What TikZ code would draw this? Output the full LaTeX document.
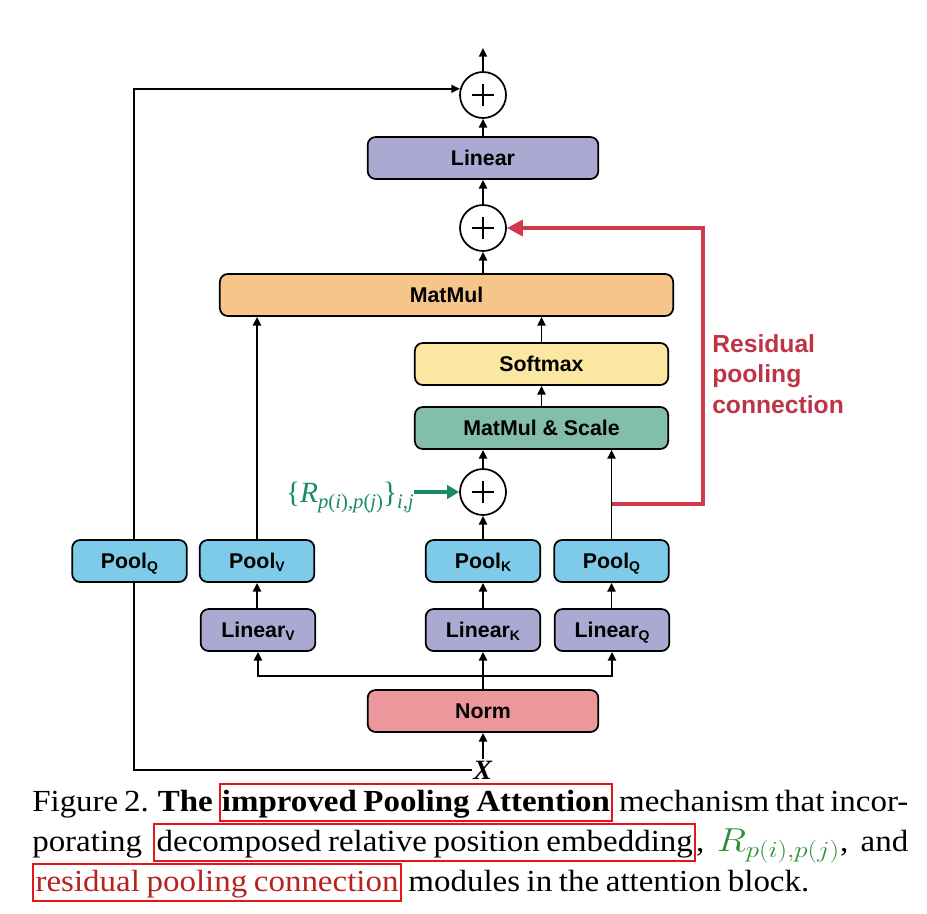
\documentclass[tikz,border=0pt]{standalone}
\usepackage{fontspec}
\usepackage{graphicx}
\setmainfont{Liberation Serif}
\newfontfamily\capfont[FakeStretch=1.075,WordSpace=0.8]{Liberation Serif}
\newfontfamily\boxfont{Liberation Sans}
\usetikzlibrary{arrows.meta,calc}
\definecolor{cLin}{HTML}{A9A9D1}
\definecolor{cMM}{HTML}{F6C58A}
\definecolor{cSm}{HTML}{FCE7A2}
\definecolor{cMs}{HTML}{82BEAA}
\definecolor{cPool}{HTML}{7ECBE9}
\definecolor{cNorm}{HTML}{EC979C}
\definecolor{cRes}{HTML}{CF3A4B}
\definecolor{cResT}{HTML}{BE3445}
\definecolor{cGreen}{HTML}{1A8A60}
\definecolor{cBox}{HTML}{E8141C}
\definecolor{cCapRed}{HTML}{B8221E}
\definecolor{cCapGreen}{HTML}{2F8F35}
\newcommand\lsub[1]{\smash{\raisebox{-2pt}{\fontsize{10.5}{10.5}\selectfont #1}}}
\newcommand\gsub[1]{\raisebox{-5pt}{\fontsize{15.5}{16}\selectfont #1}}
\newcommand\rbox[1]{{\color{cBox}\setlength\fboxrule{1.5pt}\setlength\fboxsep{1pt}\fbox{\color{black}\rule[-5.5pt]{0pt}{24pt}#1}}}
\tikzset{
  blk/.style={draw=black, line width=1.3pt, rounded corners=6pt, minimum height=31.5pt, inner sep=0pt,
    font=\boxfont\bfseries\fontsize{16}{18}\selectfont},
  wide/.style={minimum width=173pt},
  mid/.style={minimum width=190pt},
  small/.style={minimum width=86pt},
  plus/.style={circle, draw=black, line width=1.3pt, fill=white, minimum size=34.5pt, inner sep=0pt,
    path picture={\draw[line width=2.2pt] ($(path picture bounding box.center)+(-8pt,0)$) -- ++(16pt,0)
      ($(path picture bounding box.center)+(0,-8pt)$) -- ++(0,16pt);}},
  ln/.style={line width=1.4pt},
  arr/.style={line width=1.4pt, -{Triangle[length=6.5pt,width=6pt]}},
  rarr/.style={line width=2.6pt, draw=cRes, -{Triangle[length=12pt,width=12pt]}},
  garr/.style={line width=2.6pt, draw=cGreen, -{Triangle[length=9pt,width=10pt]}},
}
\begin{document}
\begin{tikzpicture}[x=0.75pt, y=-0.75pt]
\useasboundingbox (0,0) rectangle (927,913);
% nodes
\node[plus] (tp) at (483,95) {};
\node[blk, wide, fill=cLin] (lin) at (483,158) {Linear};
\node[plus] (mp) at (483,228) {};
\node[blk, minimum width=340pt, fill=cMM] (mm) at (446.5,295) {MatMul};
\node[blk, mid, fill=cSm] (sm) at (541.5,364) {Softmax};
\node[blk, mid, fill=cMs] (ms) at (541.5,428) {MatMul \& Scale};
\node[plus] (rp) at (483,492) {};
\node[blk, small, fill=cPool] (pq0) at (129.5,561) {Pool\lsub{Q}};
\node[blk, small, fill=cPool] (pv) at (257,561) {Pool\lsub{V}};
\node[blk, small, fill=cPool] (pk) at (483,561) {Pool\lsub{K}};
\node[blk, small, fill=cPool] (pq) at (611.5,561) {Pool\lsub{Q}};
\node[blk, small, fill=cLin] (lv) at (258,630) {Linear\lsub{V}};
\node[blk, small, fill=cLin] (lk) at (483,630) {Linear\lsub{K}};
\node[blk, small, fill=cLin] (lq) at (612,630) {Linear\lsub{Q}};
\node[blk, wide, fill=cNorm] (norm) at (483,711) {Norm};
\node[inner sep=1pt, font=\fontsize{21}{21}\selectfont] (X) at (483,770) {\textbf{\textit{X}}};
\node[anchor=base east, inner sep=0pt, text=cGreen, font=\fontsize{22}{22}\selectfont] (rel) at (414,502)
  {\{\textit{R}\gsub{\textit{p}(\textit{i}),\textit{p}(\textit{j})}\}\gsub{\textit{i},\textit{j}}};
\node[anchor=north west, align=left, inner sep=0pt, text=cResT,
  font=\boxfont\bfseries\fontsize{18.5}{23}\selectfont] (rlab) at (712,334) {Residual\\pooling\\connection};
\coordinate (outc) at (483,48);
\coordinate (br) at (483,676);
\coordinate (rs) at (611.5,504);
\coordinate (rc) at (703,504);
% connectors
\draw[arr] (tp.north) -- (outc);
\draw[arr] (lin.north) -- (tp.south);
\draw[arr] (mp.north) -- (lin.south);
\draw[arr] (mp |- mm.north) -- (mp.south);
\draw[arr] (sm.north) -- (sm.north |- mm.south);
\draw[arr] (ms.north) -- (sm.south);
\draw[arr] (rp.north) -- (rp |- ms.south);
\draw[arr] (pk.north) -- (rp.south);
\draw[arr] (pq.north) -- (pq.north |- ms.south);
\draw[arr] (pv.north) -- (pv.north |- mm.south);
\draw[arr] (lv.north -| pv) -- (pv.south);
\draw[arr] (lk.north) -- (pk.south);
\draw[arr] (lq.north -| pq) -- (pq.south);
\draw[arr] (norm.north) -- (lk.south);
\draw[arr] (br) -| (lv.south);
\draw[arr] (br) -| (lq.south);
\draw[arr] (X.north) -- (norm.south);
\draw[ln] (X.west) -| ([xshift=3.4pt]pq0.south);
\draw[arr] ([xshift=3.4pt]pq0.north) |- (tp.165);
\draw[rarr] (rs) -- (rc) |- (mp.east);
\draw[garr] (rel.east |- rp.west) -- (rp.west);
% caption
\node[anchor=north west, inner sep=0pt, align=left,
  font=\capfont\fontsize{23}{30}\selectfont] (cap) at (32,783)
  {\makebox[657pt][s]{Figure 2. \textbf{The \rbox{improved Pooling Attention}} mechanism that incor-}\\
   \makebox[657pt][s]{porating \rbox{decomposed relative position embedding}, {\color{cCapGreen}\fontsize{26}{30}\selectfont\scalebox{1.17}[1]{$R_{p(i),p(j)}$}}, and}\\
   \rbox{\color{cCapRed}residual pooling connection} modules in the attention block.};
\end{tikzpicture}
\end{document}
